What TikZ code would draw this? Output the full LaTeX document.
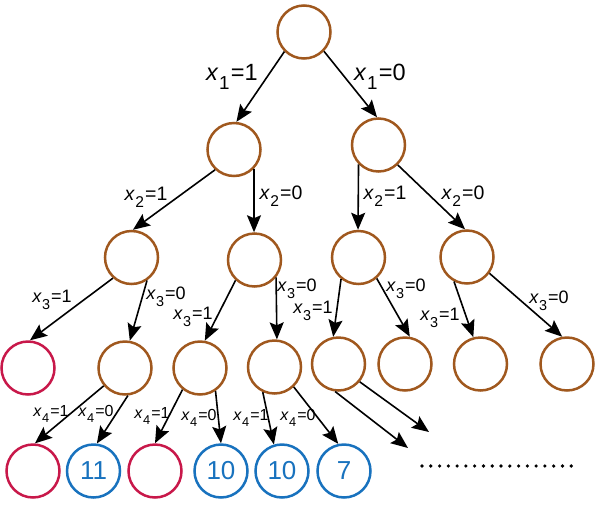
\documentclass[tikz,border=0pt]{standalone}
\usepackage{fontspec}
\setmainfont{Liberation Sans}
\usetikzlibrary{arrows.meta}
\definecolor{brn}{RGB}{160,88,30}
\definecolor{crim}{RGB}{200,24,74}
\definecolor{blu}{RGB}{24,114,190}
\newcommand\xlab[2]{\textit{x}\kern0.02em\raisebox{-0.36em}{\scalebox{0.8}{#1}}\kern0.06em=#2}
\tikzset{
  nd/.style={circle,draw=brn,line width=2.5pt,minimum size=53pt,inner sep=0pt},
  ndr/.style={nd,draw=crim},
  ndb/.style={nd,draw=blu,text=blu,font=\fontsize{26}{26}\selectfont},
  arr/.style={draw=black,line width=1.6pt,-{Stealth[length=17pt,width=14pt,inset=3pt]}},
  lA/.style={inner sep=0pt,font=\fontsize{23.5}{23.5}\selectfont},
  lB/.style={inner sep=0pt,font=\fontsize{19.5}{19.5}\selectfont},
  lC/.style={inner sep=0pt,font=\fontsize{18}{18}\selectfont},
  lD/.style={inner sep=0pt,font=\fontsize{16}{16}\selectfont},
}
\begin{document}
\begin{tikzpicture}[x=1pt,y=-1pt]
\useasboundingbox (0,0) rectangle (600,504);
% nodes
\node[nd] (root) at (304,32) {};
\node[nd] (L1L) at (234,149.5) {};
\node[nd] (L1R) at (378.5,145) {};
\node[nd] (A) at (131.5,257.5) {};
\node[nd] (B) at (254.5,260) {};
\node[nd] (C) at (358.5,257.5) {};
\node[nd] (D) at (467,257) {};
\node[ndr] (R1) at (28,368) {};
\node[nd] (E) at (125,368) {};
\node[nd] (F) at (200,368) {};
\node[nd] (G) at (274.5,367) {};
\node[nd] (H) at (338.5,364) {};
\node[nd] (I) at (405,364) {};
\node[nd] (J) at (480.5,364) {};
\node[nd] (K) at (567,364) {};
\node[ndr] (R2) at (33,471) {};
\node[ndb] (N11) at (93.5,471) {11};
\node[ndr] (R3) at (155,471) {};
\node[ndb] (N10a) at (221,471) {10};
\node[ndb] (N10b) at (282,471) {10};
\node[ndb] (N7) at (344,471) {7};
\coordinate (off1) at (408,448);
\coordinate (off2) at (429,432);
\coordinate (dotsL) at (422,466);
\coordinate (dotsR) at (580,466);
% edges
\draw[arr] (root.-135) -- (L1L.85);
\draw[arr] (root.-44) -- (L1R.93);
\draw[arr] (L1L.-133) -- (A.87);
\draw[arr] (L1L.-44) -- (B.91);
\draw[arr] (L1R.-136) -- (C.91);
\draw[arr] (L1R.-46) -- (D.94);
\draw[arr] (A.-132) -- (R1.86);
\draw[arr] (A.-56) -- (E.80);
\draw[arr] (B.-133) -- (F.80);
\draw[arr] (B.-39) -- (G.85);
\draw[arr] (C.-129) -- (H.101);
\draw[arr] (C.-49) -- (I.80);
\draw[arr] (D.-118) -- (J.105);
\draw[arr] (D.-36) -- (K.100);
\draw[arr] (E.-140) -- (R2.86);
\draw[arr] (E.-84) -- (N11.83);
\draw[arr] (F.-129) -- (R3.90);
\draw[arr] (F.-56) -- (N10a.90);
\draw[arr] (G.-115) -- (N10b.107);
\draw[arr] (G.-46) -- (N7.102);
\draw[arr] (H.-97) -- (off1);
\draw[arr] (H.-40) -- (off2);
% labels
\node[lA] (t1a) at (232,77) {\xlab{1}{1}};
\node[lA] (t1b) at (380,77) {\xlab{1}{0}};
\node[lB] (t2a) at (146,197) {\xlab{2}{1}};
\node[lB] (t2b) at (281,196) {\xlab{2}{0}};
\node[lB] (t2c) at (385,196) {\xlab{2}{1}};
\node[lB] (t2d) at (463,196) {\xlab{2}{0}};
\node[lC] (t3a) at (52,300) {\xlab{3}{1}};
\node[lC] (t3b) at (166,297) {\xlab{3}{0}};
\node[lC] (t3c) at (193,317) {\xlab{3}{1}};
\node[lC] (t3d) at (297,289) {\xlab{3}{0}};
\node[lC] (t3e) at (313,311) {\xlab{3}{1}};
\node[lC] (t3f) at (406,289) {\xlab{3}{0}};
\node[lC] (t3g) at (440,318) {\xlab{3}{1}};
\node[lC] (t3h) at (549,301) {\xlab{3}{0}};
\node[lD] (t4a) at (51,414) {\xlab{4}{1}};
\node[lD] (t4b) at (96,414) {\xlab{4}{0}};
\node[lD] (t4c) at (152,416) {\xlab{4}{1}};
\node[lD] (t4d) at (199,418) {\xlab{4}{0}};
\node[lD] (t4e) at (251,418) {\xlab{4}{1}};
\node[lD] (t4f) at (298,418) {\xlab{4}{0}};
% dots
\draw[line width=3.6pt,line cap=round,dash pattern=on 0pt off 8.78pt] (dotsL) -- (dotsR);
\end{tikzpicture}
\end{document}
